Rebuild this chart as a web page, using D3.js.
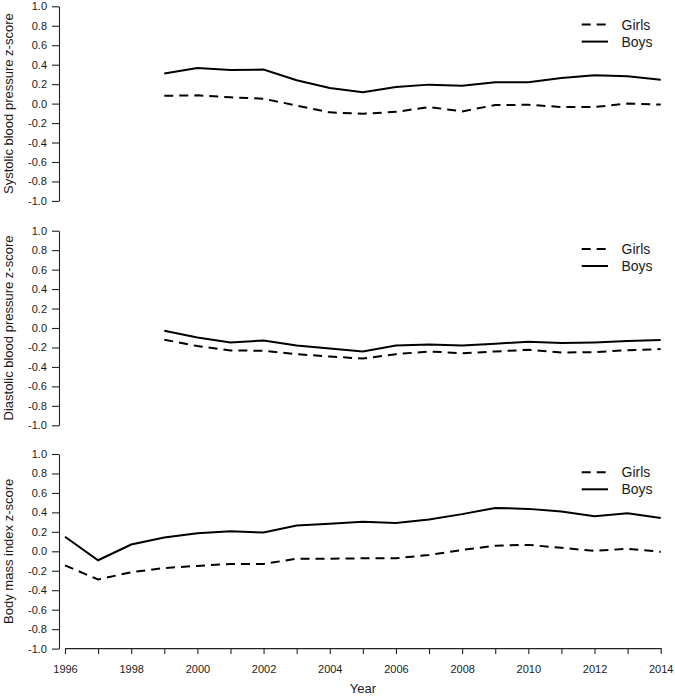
<!DOCTYPE html>
<html>
<head>
<meta charset="utf-8">
<script src="https://cdn.jsdelivr.net/npm/d3@7"></script>
<style>
  html, body { margin: 0; padding: 0; background: #fff; }
  svg { display: block; }
  text { font-family: "Liberation Sans", Arial, sans-serif; fill: #1a1a1a; }
</style>
</head>
<body>
<svg id="chart" width="675" height="696"></svg>
<script>
// ---------- DATA ----------
const years = [1996,1997,1998,1999,2000,2001,2002,2003,2004,2005,2006,2007,2008,2009,2010,2011,2012,2013,2014];
const yearsBP = [1999,2000,2001,2002,2003,2004,2005,2006,2007,2008,2009,2010,2011,2012,2013,2014];

const sbpGirls = [0.08,0.085,0.065,0.05,-0.02,-0.09,-0.105,-0.085,-0.035,-0.08,-0.015,-0.012,-0.035,-0.035,0.0,-0.01];
const sbpBoys  = [0.31,0.365,0.345,0.35,0.24,0.16,0.118,0.17,0.195,0.183,0.22,0.22,0.262,0.292,0.282,0.245];

const dbpGirls = [-0.12,-0.186,-0.23,-0.234,-0.269,-0.293,-0.314,-0.269,-0.241,-0.259,-0.241,-0.224,-0.252,-0.248,-0.228,-0.217];
const dbpBoys  = [-0.028,-0.097,-0.148,-0.128,-0.179,-0.21,-0.241,-0.179,-0.169,-0.179,-0.162,-0.141,-0.155,-0.148,-0.134,-0.124];

const bmiGirls = [-0.145,-0.29,-0.215,-0.172,-0.15,-0.13,-0.13,-0.076,-0.076,-0.072,-0.072,-0.038,0.014,0.058,0.066,0.036,0.004,0.026,-0.005];
const bmiBoys  = [0.15,-0.092,0.07,0.142,0.186,0.205,0.193,0.265,0.282,0.303,0.29,0.327,0.382,0.446,0.436,0.41,0.36,0.392,0.343];

const yTicks = [-1.0,-0.8,-0.6,-0.4,-0.2,0.0,0.2,0.4,0.6,0.8,1.0];
const xTicks = years;
const yTitles = ["Systolic blood pressure z-score","Diastolic blood pressure z-score","Body mass index z-score"];
const legendLabels = ["Girls","Boys"];
const xTitle = "Year";

// ---------- LAYOUT ----------
const svg = d3.select("#chart");
const xLeft = 65, xRight = 660.7, axisX = 59;
const panelTops = [6.3, 230.7, 454.0];
const panelH = 194.6;

const x = d3.scaleLinear().domain([1996, 2014]).range([xLeft, xRight]);

const panels = [
  {yrs: yearsBP, girls: sbpGirls, boys: sbpBoys, title: yTitles[0]},
  {yrs: yearsBP, girls: dbpGirls, boys: dbpBoys, title: yTitles[1]},
  {yrs: years,   girls: bmiGirls, boys: bmiBoys, title: yTitles[2]}
];

const fmt = d => (Math.abs(d) < 1e-9 ? 0 : d).toFixed(1);

panels.forEach((p, i) => {
  const top = panelTops[i];
  const y = d3.scaleLinear().domain([-1, 1]).range([top + panelH, top]);

  // Y axis
  const ga = svg.append("g").attr("transform", `translate(${axisX},0)`)
    .call(d3.axisLeft(y).tickValues(yTicks).tickFormat(fmt).tickSize(7).tickSizeOuter(0).tickPadding(5));
  ga.select(".domain").attr("stroke", "#222").attr("stroke-width", 1.1);
  ga.selectAll(".tick line").attr("stroke", "#222").attr("stroke-width", 1.1);
  ga.selectAll(".tick text").style("font-family", '"Liberation Sans", Arial, sans-serif')
    .style("font-size", "11px").attr("fill", "#1a1a1a");

  // Y title
  svg.append("text")
    .attr("transform", `translate(13,${top + panelH / 2}) rotate(-90)`)
    .attr("text-anchor", "middle")
    .style("font-size", "13px")
    .text(p.title);

  // Lines
  const line = d3.line().x((d, k) => x(p.yrs[k])).y(d => y(d));
  svg.append("path").datum(p.girls).attr("d", line)
    .attr("fill", "none").attr("stroke", "#000").attr("stroke-width", 2)
    .attr("stroke-dasharray", "9,6");
  svg.append("path").datum(p.boys).attr("d", line)
    .attr("fill", "none").attr("stroke", "#000").attr("stroke-width", 2);

  // Legend
  const lg = svg.append("g");
  const lx0 = 581.7, lx1 = 608, tx = 621.5;
  [0, 1].forEach(k => {
    const cy = top + 18.3 + k * 17;
    lg.append("line").attr("x1", lx0).attr("x2", lx1).attr("y1", cy).attr("y2", cy)
      .attr("stroke", "#000").attr("stroke-width", 2)
      .attr("stroke-dasharray", k === 0 ? "9,6" : null);
    lg.append("text").attr("x", tx).attr("y", cy + 5)
      .style("font-size", "14px").text(legendLabels[k]);
  });

  // X axis on bottom panel
  if (i === 2) {
    const gx = svg.append("g").attr("transform", `translate(0,${top + panelH - 0.5})`)
      .call(d3.axisBottom(x).tickValues(xTicks)
        .tickFormat(d => (d % 2 === 0 ? String(d) : ""))
        .tickSize(6).tickSizeOuter(0).tickPadding(11));
    gx.select(".domain").attr("stroke", "#222").attr("stroke-width", 1.1);
    gx.selectAll(".tick line").attr("stroke", "#222").attr("stroke-width", 1.1);
    gx.selectAll(".tick text").style("font-family", '"Liberation Sans", Arial, sans-serif')
      .style("font-size", "11px").attr("fill", "#1a1a1a");

    svg.append("text")
      .attr("x", (xLeft + xRight) / 2).attr("y", 693)
      .attr("text-anchor", "middle")
      .style("font-size", "13px")
      .text(xTitle);
  }
});
</script>
</body>
</html>
